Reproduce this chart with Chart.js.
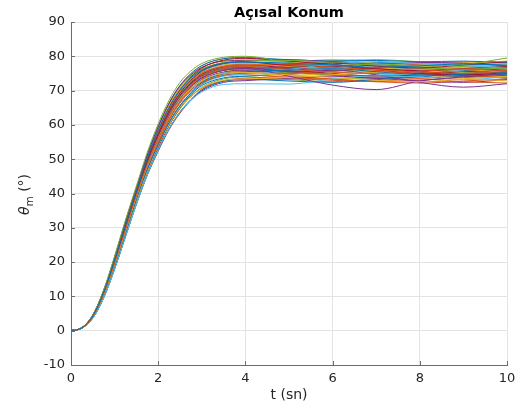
<!DOCTYPE html>
<html><head><meta charset="utf-8">
<script src="https://cdn.jsdelivr.net/npm/chart.js@4.4.1/dist/chart.umd.min.js"></script>
<style>html,body{margin:0;padding:0;background:#fff;}#wrap{width:523px;height:412px;position:relative;}</style>
</head><body><div id="wrap"><canvas id="c" width="523" height="412"></canvas></div>
<script>
const titleText = 'Açısal Konum';
const xLabel = 't (sn)';
const yLabelMain = 'θ', yLabelSub = 'm', yLabelUnit = ' (°)';
const xTickValues = [0, 2, 4, 6, 8, 10];
const yTickValues = [-10, 0, 10, 20, 30, 40, 50, 60, 70, 80, 90];
const lineColors = ['#0072BD', '#D95319', '#EDB120', '#7E2F8E', '#77AC30', '#4DBEEE', '#A2142F'];
const times = [0, 0.25, 0.5, 0.75, 1, 1.25, 1.5, 1.75, 2, 2.25, 2.5, 2.75, 3, 3.5, 4, 5, 6, 7, 8, 9, 10];

const run01 = [0,0.85,4.3,11.2,20.6,30.8,40.7,50.4,58.5,65.2,70.3,73.7,76.0,78.0,78.3,78,77.5,76.8,77.2,77.8,77.4];
const run02 = [0,0.8,4.0,10.6,19.6,29.5,39.4,48.4,55.9,62.5,67.6,71.3,74.1,76.4,77,76.2,75.4,75,75.6,76.3,75.8];
const run03 = [0,0.79,4.0,10.4,19.3,29.1,39.1,48.2,56,62.4,67.4,70.6,72.9,75,75.3,74.6,73.8,73,72.6,73.4,74.2];
const run04 = [0,0.8,4.1,10.7,19.8,29.7,39.4,48.4,56.1,62.6,67.7,71.2,73.7,75.9,76.4,74.2,71.6,70.3,72.8,74,75];
const run05 = [0,0.9,4.6,11.9,21.7,32.3,42.2,52,60.3,67.2,72.4,75.7,77.9,79.7,80,78.2,77.3,77.8,77.2,77.6,79.5];
const run06 = [0,0.74,3.6,9.5,17.9,27.4,36.8,45.4,52.8,58.9,63.8,67.2,69.6,71.8,72,71.9,73.4,74.3,74,73.2,74];
const run07 = [0,0.85,4.2,11,20.3,30.4,40.4,49.7,57.4,64.1,69.3,73,75.7,77.9,78.4,77.4,78,77.1,76.6,77.5,78.4];
const run08 = [0,0.77,3.8,10,18.6,28.3,38.3,47,54.2,60.7,65.6,69.4,72.4,74.9,75.5,76,76.4,75.5,74.6,74.2,74.8];
const run09 = [0,0.82,4.2,11,20.2,30.3,40.6,50.1,58.2,64.8,69.9,73,75.2,77,77.3,77.6,76.8,76,75.4,75,75.6];
const run10 = [0,0.76,3.8,9.9,18.5,28.2,37.7,46.4,53.9,60.1,65,68.3,70.8,73,73.4,73.8,74.6,75.2,74.6,73.6,72.8];
const run11 = [0,0.8,4.1,10.7,19.8,29.8,39.8,49,56.8,63.4,68.4,71.8,74.3,76.4,76.8,75.5,76,74.6,72.4,71,72];
const run12 = [0,0.85,4.3,11.2,20.6,30.7,40.8,50.1,58,64.8,69.9,73.5,76,78.2,78.6,78.8,78.2,77.4,76.8,76.2,76.6];
const run13 = [0,0.79,4,10.5,19.4,29.2,39,48,55.7,62.2,67.1,70.5,73,75.2,75.6,76.2,77.8,78.4,77.9,77.3,76.5];
const run14 = [0,0.88,4.5,11.6,21.1,31.4,41,50.3,58.1,64.9,70.1,73.9,76.6,78.9,79.4,78.6,77.6,76.4,75.8,76.4,77];
const run15 = [0,0.75,3.7,9.6,18,27.5,37.1,45.5,52.7,58.9,63.8,67.4,70.2,72.7,73.3,72.8,72.4,73.2,74,74.8,75.4];
const run16 = [0,0.79,4,10.5,19.3,29.1,38.9,47.7,55,61.6,66.6,70.5,73.4,75.9,76.6,75.6,74.8,74,73.6,74.2,73.8];
const run17 = [0,0.78,3.9,10.2,19,28.8,38.6,47.5,55.1,61.5,66.5,69.9,72.5,74.7,75.2,74.4,75.2,76.2,76.8,76.2,75.4];
const run18 = [0,0.87,4.4,11.4,21,31.3,41.6,51.2,59.5,66.3,71.4,74.6,76.8,78.6,78.8,79,78.4,77.8,78.2,78,77.2];
const run19 = [0,0.8,4.1,10.7,19.8,29.8,39.7,48.9,56.8,63.3,68.3,71.6,73.9,75.9,76.2,75.2,74.6,75.4,76.4,77,76.2];
const run20 = [0,0.77,3.8,10,18.7,28.4,38,46.7,54,60.4,65.3,69,71.8,74.2,74.8,75.6,76.6,77.6,78,77.4,77.8];
const run21 = [0,0.81,4.1,10.8,19.9,29.9,40,49.2,56.9,63.5,68.6,72.2,74.8,76.9,77.4,76.8,77.2,76,75,74.6,75.2];
const run22 = [0,0.9,4.6,11.8,21.5,32,41.7,51.4,59.5,66.4,71.5,75,77.3,79.3,79.6,79,78.6,78.8,78.4,78.6,78.2];
const run23 = [0,0.79,4,10.4,19.3,29.2,38.8,47.8,55.6,62,66.9,70,72.3,74.3,74.6,73.8,73.2,72.8,73.4,72.6,72.2];
const run24 = [0,0.83,4.2,10.9,20.1,30.1,39.9,49,56.5,63.2,68.3,72.2,75,77.4,78,77,76.4,75.8,76.2,77,77.6];
const run25 = [0,0.75,3.7,9.7,18.2,27.7,37,45.5,52.7,58.9,63.7,67.2,69.9,72.4,72.9,73.6,74.2,73.6,72.8,72.4,73.2];
const run26 = [0,0.81,4.1,10.8,19.9,30,40.1,49.4,57.3,63.9,69,72.3,74.6,76.6,77,77.3,76,75.6,76.2,75.4,74.6];
const run27 = [0,0.85,4.3,11.2,20.6,30.8,40.7,50.1,58,64.7,69.8,73.3,75.8,77.8,78.2,78.4,79,78.6,77.8,77.4,77];
const run28 = [0,0.78,3.9,10.2,19,28.8,38.6,47.5,55,61.4,66.4,69.9,72.6,74.9,75.4,75.8,75,74.2,74.6,75.6,76.4];
const run29 = [0,0.79,4,10.5,19.5,29.4,39.2,48.2,55.7,62.3,67.3,70.9,73.7,76,76.5,76.6,77.2,77.4,76.6,76,76.8];
const run30 = [0,0.75,3.7,9.6,18,27.4,36.9,45.3,52.3,58.6,63.4,67.2,70.3,72.9,73.6,74,73.4,72.6,72.2,72.8,73.4];
const run31 = [0,0.9,4.6,11.8,21.4,31.8,41.5,51,59,65.9,71.1,74.7,77.2,79.3,79.7,78.4,77.4,76.8,77.4,78.2,78.4];
const run32 = [0,0.79,4,10.4,19.3,29.1,38.8,47.7,55.4,61.8,66.8,70,72.5,74.6,75,75.2,74.4,73.6,74.2,75,76];
const run33 = [0,0.87,4.4,11.5,21.1,31.4,41.3,51,59.3,66,71.1,74.2,76.3,78,78.2,77.8,78.6,79,78.4,77.6,77.8];
const run34 = [0,0.8,4,10.6,19.6,29.5,39.2,48.2,55.6,62.2,67.2,71,73.8,76.2,76.8,76,75.4,74.8,74.6,75.8,77];
const run35 = [0,0.77,3.8,9.9,18.4,28,37.8,46.4,53.5,59.9,64.9,68.8,71.9,74.5,75.2,74.8,75.8,76.4,75.6,74.8,74.4];
const run36 = [0,0.81,4.2,10.9,20.1,30.2,40.2,49.6,57.6,64.2,69.2,72.4,74.6,76.5,76.8,75.8,74.6,74.4,75.2,75.6,75.2];
const run37 = [0,0.76,3.8,9.9,18.5,28.2,37.7,46.5,54.1,60.3,65.2,68.3,70.7,72.8,73.2,73.4,73,72.6,73,73.8,74.2];
const run38 = [0,0.86,4.4,11.4,20.9,31.2,41.1,50.7,58.8,65.5,70.7,74,76.2,78.1,78.4,77.6,76.8,76.6,77,76.6,76];
const run39 = [0,0.79,4,10.5,19.5,29.3,39.2,48.1,55.4,62,67.1,71,74,76.4,77.1,77.8,78.4,77.6,76.8,76.4,76.2];
const run40 = [0,0.77,3.9,10.1,18.8,28.5,38.2,46.9,54.3,60.7,65.7,69.3,72,74.4,75,74.4,73.4,73.8,74.8,75.2,74.6];
const run41 = [0,0.84,4.3,11.1,20.4,30.5,40.3,49.6,57.3,64,69.1,72.8,75.5,77.7,78.2,77.2,76.2,76.6,76.2,76.6,77.2];
const run42 = [0,0.8,4.1,10.7,19.8,29.8,39.9,49.1,56.9,63.5,68.6,72,74.5,76.6,77,76.4,76.8,75.8,74.8,74.6,75.6];
const run43 = [0,0.78,3.9,10.2,18.9,28.6,38,46.8,54.3,60.6,65.5,68.9,71.5,73.7,74.2,74.8,75.6,76.2,75.4,74.4,73.6];
const run44 = [0,0.84,4.2,11,20.3,30.4,40.2,49.4,57.2,63.9,69,72.5,75.1,77.2,77.7,77,76.2,76.8,77.6,77.2,76.4];
const run45 = [0,0.88,4.5,11.6,21.2,31.6,41.4,50.9,59,65.8,71,74.4,76.7,78.7,79,78.4,78.8,78,77.2,77.8,78.6];
const run46 = [0,0.8,4.1,10.6,19.6,29.5,39,48,55.6,62.1,67.1,70.5,73.1,75.3,75.8,76.4,77,76.6,75.6,74.4,73.8];
const run47 = [0,0.77,3.8,10,18.6,28.3,37.6,46.2,53.5,59.8,64.7,68.3,71,73.4,74,73.2,72.6,73.4,74.4,75,74.8];
const run48 = [0,0.86,4.4,11.3,20.8,31,40.8,50.2,58.3,65,70.1,73.3,75.6,77.5,77.8,78.6,78.2,77.4,77.8,78.4,78];
const run49 = [0,0.79,4,10.4,19.3,29.1,38.8,47.7,55.1,61.6,66.6,70.3,73.1,75.4,76,75.2,76,76.8,76.2,75.6,76.6];
const run50 = [0,0.8,4.1,10.7,19.8,29.8,39.6,48.8,56.6,63.1,68.2,71.5,73.9,76,76.4,77,77.6,78.2,77.4,76.2,75.8];

const runs = [run01,run02,run03,run04,run05,run06,run07,run08,run09,run10,run11,run12,run13,run14,
  run15,run16,run17,run18,run19,run20,run21,run22,run23,run24,run25,run26,run27,run28,
  run29,run30,run31,run32,run33,run34,run35,run36,run37,run38,run39,run40,run41,run42,
  run43,run44,run45,run46,run47,run48,run49,run50];

const textColor = '#262626';
const axisColor = '#6b6b6b';
const gridColor = '#e3e3e3';
const fontFam = "'DejaVu Sans', sans-serif";

const datasets = runs.map((r, i) => ({
  data: times.map((t, k) => ({ x: t, y: r[k] })),
  borderColor: lineColors[i % lineColors.length],
  borderWidth: 1,
  pointRadius: 0,
  fill: false,
  cubicInterpolationMode: 'monotone'
}));

const decorPlugin = {
  id: 'decor',
  afterDraw(chart) {
    const ctx = chart.ctx;
    const a = chart.chartArea;
    const xs = chart.scales.x, ys = chart.scales.y;
    ctx.save();
    ctx.strokeStyle = axisColor;
    ctx.lineWidth = 1;
    ctx.beginPath();
    xTickValues.forEach(v => {
      const px = Math.round(xs.getPixelForValue(v)) + 0.5;
      ctx.moveTo(px, a.bottom); ctx.lineTo(px, a.bottom - 4);
    });
    yTickValues.forEach(v => {
      const py = Math.round(ys.getPixelForValue(v)) + 0.5;
      ctx.moveTo(a.left, py); ctx.lineTo(a.left + 4, py);
    });
    ctx.stroke();
    ctx.fillStyle = '#000';
    ctx.textAlign = 'center';
    ctx.textBaseline = 'alphabetic';
    ctx.font = "bold 14.5px " + fontFam;
    ctx.fillText(titleText, (a.left + a.right) / 2, 17);
    ctx.fillStyle = textColor;
    ctx.font = "14px " + fontFam;
    ctx.fillText(xLabel, (a.left + a.right) / 2, 399);
    ctx.translate(29, (a.top + a.bottom) / 2 + 1);
    ctx.rotate(-Math.PI / 2);
    ctx.textAlign = 'left';
    const fMain = "italic 14px " + fontFam, fSub = "10.5px " + fontFam, fUnit = "14px " + fontFam;
    ctx.font = fMain; const w1 = ctx.measureText(yLabelMain).width;
    ctx.font = fSub; const w2 = ctx.measureText(yLabelSub).width;
    ctx.font = fUnit; const w3 = ctx.measureText(yLabelUnit).width;
    let x0 = -(w1 + w2 + w3) / 2;
    ctx.font = fMain; ctx.fillText(yLabelMain, x0, 0);
    ctx.font = fSub; ctx.fillText(yLabelSub, x0 + w1, 4);
    ctx.font = fUnit; ctx.fillText(yLabelUnit, x0 + w1 + w2, 0);
    ctx.restore();
  }
};

new Chart(document.getElementById('c'), {
  type: 'line',
  data: { datasets },
  options: {
    responsive: false,
    animation: false,
    devicePixelRatio: 1,
    layout: { padding: { top: 22, right: 16, left: 0, bottom: 0 } },
    plugins: { legend: { display: false }, tooltip: { enabled: false }, title: { display: false } },
    scales: {
      x: {
        type: 'linear', min: 0, max: 10,
        ticks: { stepSize: 2, color: textColor, font: { family: fontFam, size: 13 }, padding: 6, maxRotation: 0 },
        grid: { color: gridColor, drawTicks: false },
        border: { color: axisColor, width: 1 },
        afterFit: s => { s.height = 47; }
      },
      y: {
        type: 'linear', min: -10, max: 90,
        ticks: { stepSize: 10, color: textColor, font: { family: fontFam, size: 13 }, padding: 6 },
        grid: { color: gridColor, drawTicks: false },
        border: { color: axisColor, width: 1 },
        afterFit: s => { s.width = 71; }
      }
    }
  },
  plugins: [decorPlugin]
});
</script>
</body></html>
